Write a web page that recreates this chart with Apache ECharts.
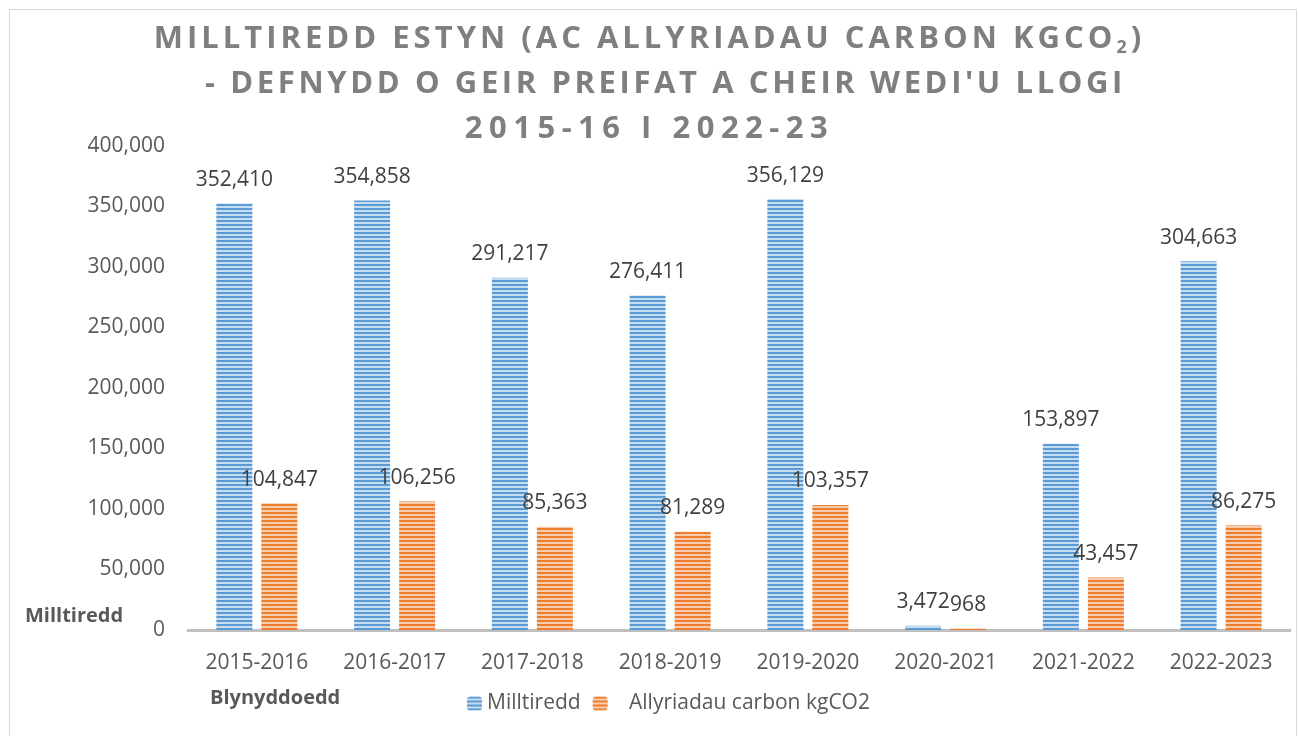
<!DOCTYPE html>
<html><head><meta charset="utf-8">
<script src="https://cdn.jsdelivr.net/npm/echarts@6/dist/echarts.min.js"></script>
<style>html,body{margin:0;padding:0;background:#fff}#c{width:1299px;height:736px}</style>
</head><body><div id="c"></div>
<script>
const categories = ['2015-2016','2016-2017','2017-2018','2018-2019','2019-2020','2020-2021','2021-2022','2022-2023'];
const mileage = [352410, 354858, 291217, 276411, 356129, 3472, 153897, 304663];
const carbon = [104847, 106256, 85363, 81289, 103357, 968, 43457, 86275];
const yTicks = [0, 50000, 100000, 150000, 200000, 250000, 300000, 350000, 400000];
const titleLine1a = 'MILLTIREDD ESTYN (AC ALLYRIADAU CARBON KGCO';
const titleSub = '2';
const titleLine1b = ')';
const titleLine2 = "- DEFNYDD O GEIR PREIFAT A CHEIR WEDI'U LLOGI";
const titleLine3 = '2015-16 I 2022-23';

function stripe(dark, light) {
  const c = document.createElement('canvas');
  c.width = 4; c.height = 4;
  const x = c.getContext('2d');
  x.fillStyle = light; x.fillRect(0, 0, 4, 4);
  x.fillStyle = dark; x.fillRect(0, 0, 4, 2);
  return { image: c, repeat: 'repeat' };
}
function spaced(str, style) {
  return str.split('').map(ch => '{' + style + '|' + ch + '}').join('');
}
const fmt = v => Number(v).toLocaleString('en-US');
const chart = echarts.init(document.getElementById('c'));
const font = 'Open Sans';
const tStyle = (pad, left) => ({ fontFamily: font, fontWeight: 'bold', fontSize: 31, color: '#7f7f7f', lineHeight: 45, padding: [0, pad, 0, left || 0] });
chart.setOption({
  animation: false,
  backgroundColor: '#fff',
  title: {
    left: 'center', top: 12,
    text: spaced(titleLine1a, 'a') + '{s|' + titleSub + '}' + spaced(titleLine1b, 'a') + '\n' +
          '{pad| }' + spaced(titleLine2, 'b') + '\n' + spaced(titleLine3, 'c'),
    textStyle: {
      rich: {
        a: tStyle(4),
        b: tStyle(3.6),
        c: tStyle(6.5),
        pad: tStyle(0, 24),
        s: { fontFamily: font, fontWeight: 'bold', fontSize: 18, color: '#7f7f7f', lineHeight: 45, padding: [16, 4, 0, 0] }
      }
    }
  },
  grid: { left: 188, right: 9, top: 146, bottom: 106 },
  legend: {
    left: 462, top: 688, itemWidth: 15, itemHeight: 14, itemGap: 12,
    textStyle: { fontFamily: font, fontSize: 21, color: '#595959' },
    formatter: n => n === 'Milltiredd' ? n : '   ' + n,
    data: ['Milltiredd', 'Allyriadau carbon kgCO2']
  },
  xAxis: {
    type: 'category', data: categories,
    axisLine: { lineStyle: { color: '#bfbfbf', width: 3 } },
    axisTick: { show: false },
    axisLabel: { fontFamily: font, fontSize: 21, color: '#595959', margin: 23 }
  },
  yAxis: {
    type: 'value', min: yTicks[0], max: yTicks[yTicks.length - 1], interval: yTicks[1] - yTicks[0],
    splitLine: { show: false },
    axisLine: { show: false }, axisTick: { show: false },
    axisLabel: { fontFamily: font, fontSize: 21, color: '#595959', margin: 23, formatter: fmt }
  },
  graphic: [
    { type: 'rect', shape: { x: 9.5, y: 9.5, width: 1287, height: 740 }, style: { fill: 'none', stroke: '#d9d9d9', lineWidth: 1 }, silent: true },
    { type: 'text', left: 25, top: 606, style: { text: 'Milltiredd', fontFamily: font, fontWeight: 'bold', fontSize: 20, fill: '#595959' } },
    { type: 'text', left: 210, top: 688, style: { text: 'Blynyddoedd', fontFamily: font, fontWeight: 'bold', fontSize: 20, fill: '#595959' } }
  ],
  series: [
    { name: 'Milltiredd', type: 'bar', data: mileage, barWidth: 36, barGap: '25%',
      itemStyle: { color: stripe('#5b9bd5', '#c6dcf1') },
      label: { show: true, position: 'top', distance: 13, fontFamily: font, fontSize: 21, color: '#404040', formatter: p => fmt(p.value) } },
    { name: 'Allyriadau carbon kgCO2', type: 'bar', data: carbon, barWidth: 36,
      itemStyle: { color: stripe('#ed7d31', '#f8cbad') },
      label: { show: true, position: 'top', distance: 13, fontFamily: font, fontSize: 21, color: '#404040', formatter: p => fmt(p.value) } }
  ]
});
</script></body></html>
